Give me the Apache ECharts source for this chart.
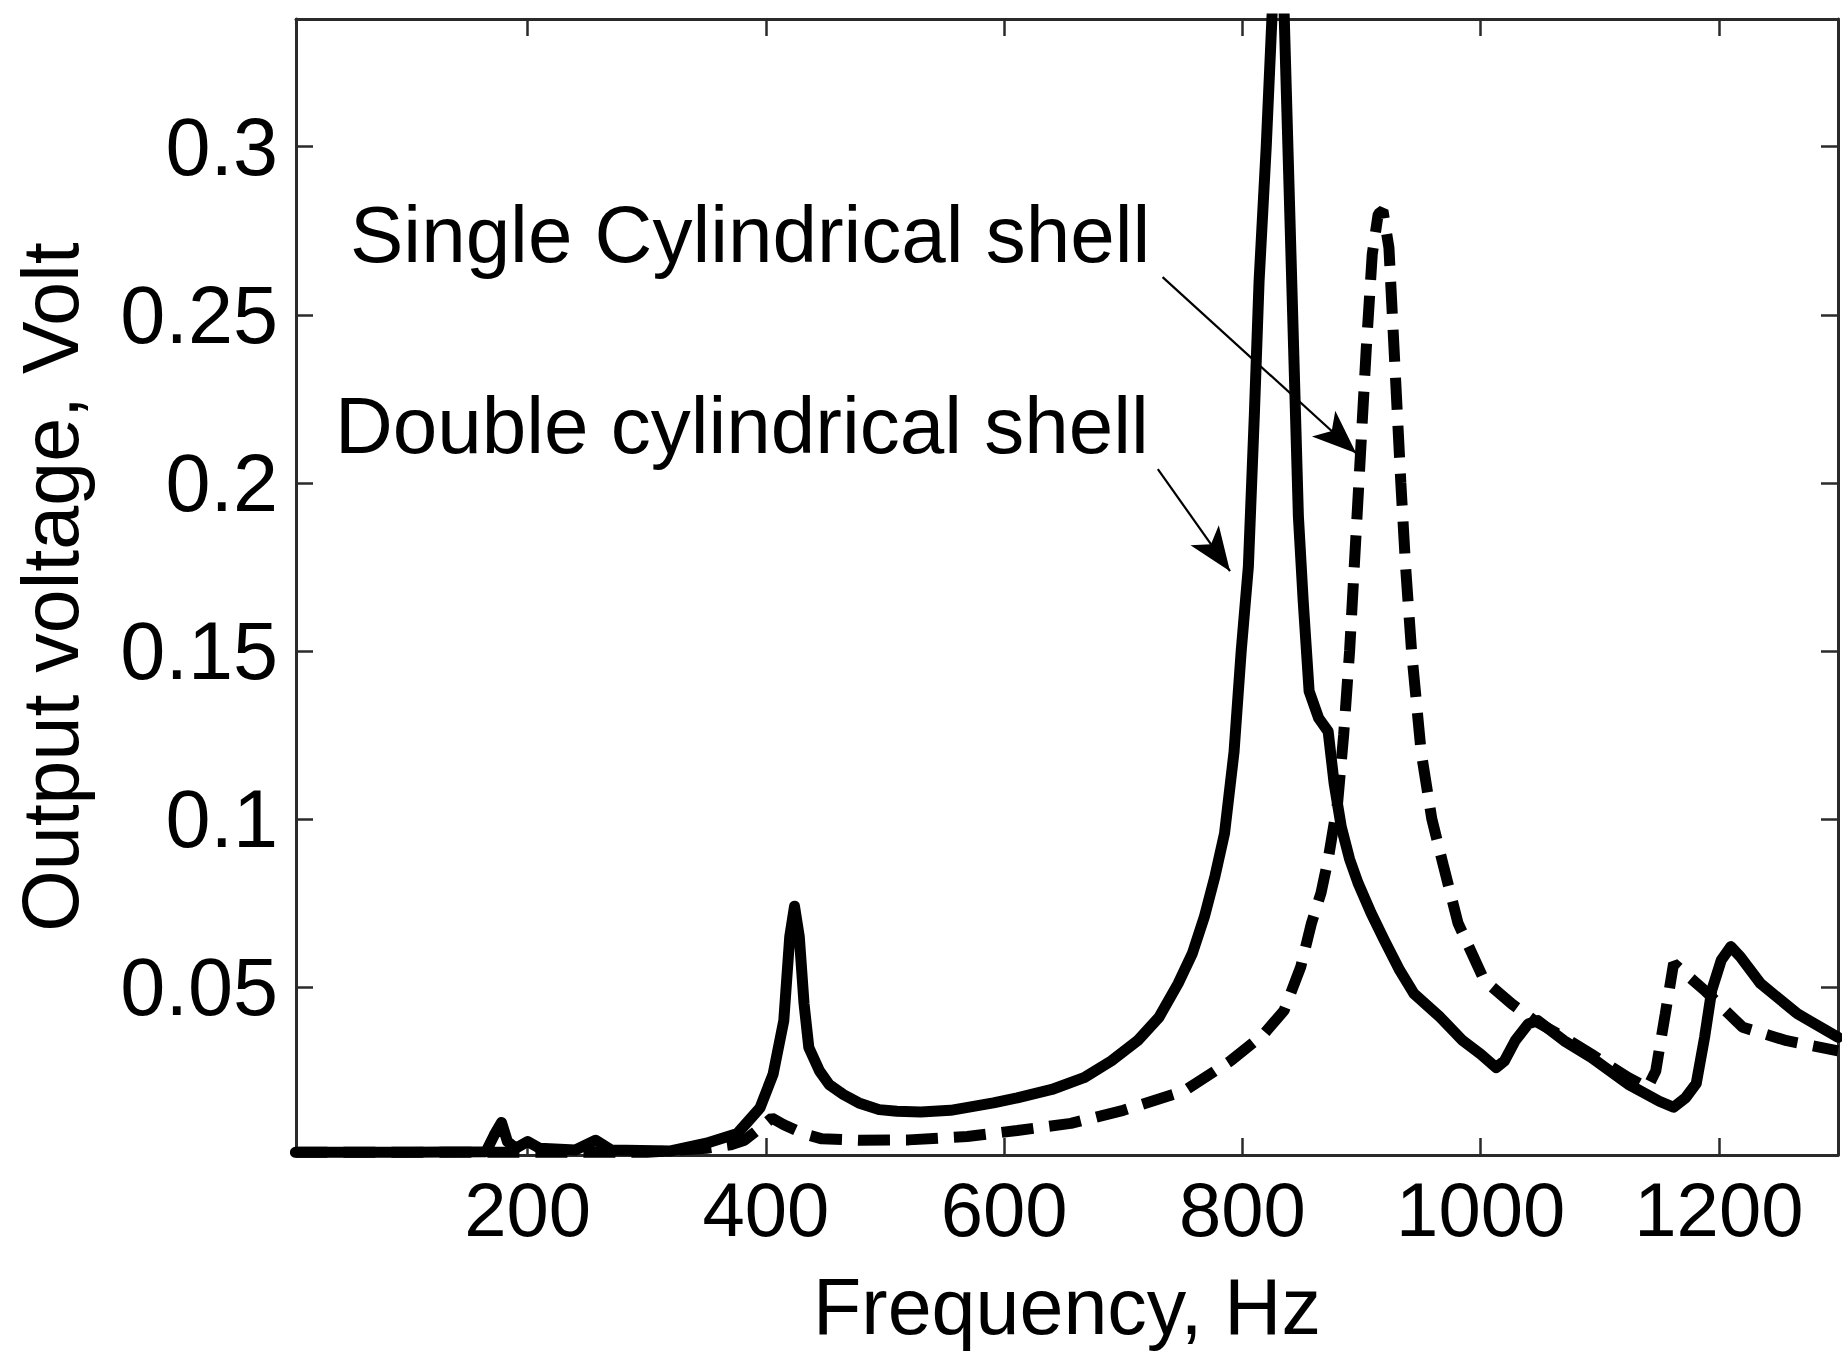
<!DOCTYPE html>
<html>
<head>
<meta charset="utf-8">
<script src="https://cdn.jsdelivr.net/npm/echarts@6/dist/echarts.min.js"></script>
<style>
html,body{margin:0;padding:0;background:#fff;}
#chart{width:1842px;height:1357px;}
</style>
</head>
<body>
<div id="chart"></div>
<script>
// ---- data ----
const xTickValues = [200, 400, 600, 800, 1000, 1200];
const yTickValues = [0.05, 0.1, 0.15, 0.2, 0.25, 0.3];

// Double cylindrical shell (solid line)
const doubleFreq = [5, 100, 165, 172, 178, 183, 190, 200, 210, 240, 257, 270, 320, 350, 376, 395, 406, 415, 420, 424, 428, 432, 436, 445, 453, 465, 478, 495, 510, 530, 555, 591, 611, 640, 667, 690, 712, 730, 746, 758, 768, 777, 785, 793, 799, 805, 810, 814, 820, 825, 830, 835, 839, 843, 847, 851, 856, 864, 872, 877, 883, 890, 897, 908, 919, 932, 944, 966, 985, 1000, 1013, 1020, 1029, 1040, 1048, 1070, 1093, 1124, 1150, 1162, 1172, 1181, 1188, 1194, 1202, 1210, 1218, 1235, 1266, 1300];
const doubleVolt = [0.0008, 0.0008, 0.001, 0.006, 0.0097, 0.004, 0.002, 0.004, 0.002, 0.0015, 0.0044, 0.0015, 0.0012, 0.0035, 0.0064, 0.014, 0.024, 0.040, 0.065, 0.074, 0.065, 0.045, 0.032, 0.025, 0.021, 0.018, 0.0155, 0.0135, 0.013, 0.0128, 0.0133, 0.0155, 0.017, 0.0195, 0.023, 0.028, 0.034, 0.041, 0.051, 0.060, 0.0708, 0.083, 0.0957, 0.120, 0.150, 0.175, 0.22, 0.26, 0.30, 0.34, 0.37, 0.34, 0.29, 0.24, 0.19, 0.165, 0.138, 0.130, 0.126, 0.1106, 0.0976, 0.088, 0.081, 0.072, 0.064, 0.055, 0.048, 0.041, 0.034, 0.030, 0.026, 0.028, 0.034, 0.039, 0.040, 0.034, 0.029, 0.021, 0.016, 0.0142, 0.017, 0.0213, 0.035, 0.049, 0.058, 0.062, 0.059, 0.051, 0.042, 0.035];

// Single cylindrical shell (dashed line)
const singleFreq = [5, 300, 350, 370, 382, 395, 405, 415, 431, 447, 478, 520, 569, 611, 656, 700, 751, 790, 818, 835, 849, 858, 866, 872, 880, 885, 890, 897, 904, 909, 914, 918, 923, 928, 933, 937, 942, 950, 959, 969, 981, 1003, 1026, 1045, 1070, 1093, 1124, 1140, 1147, 1155, 1162, 1175, 1188, 1220, 1257, 1300];
const singleVolt = [0.0008, 0.0008, 0.002, 0.003, 0.0044, 0.008, 0.011, 0.009, 0.0064, 0.0048, 0.0044, 0.0045, 0.0055, 0.0073, 0.0094, 0.0133, 0.019, 0.028, 0.036, 0.043, 0.056, 0.069, 0.078, 0.088, 0.105, 0.125, 0.150, 0.195, 0.240, 0.268, 0.280, 0.281, 0.270, 0.235, 0.200, 0.175, 0.150, 0.120, 0.100, 0.0857, 0.069, 0.052, 0.045, 0.040, 0.035, 0.030, 0.023, 0.020, 0.025, 0.042, 0.057, 0.053, 0.049, 0.038, 0.034, 0.031];

// annotation arrows: [startFreq, startVolt, tipFreq, tipVolt]
const singleArrow = [733, 0.2612, 895.5, 0.2088];
const doubleArrow = [729, 0.2041, 789.6, 0.1737];

const xRange = [5.5, 1300];
const yRange = [0, 0.338];

// ---- chart ----
const zip = (a, b) => a.map((v, i) => [v, b[i]]);
const FONT = '"Liberation Sans", Arial, sans-serif';
const AXIS_COLOR = '#2a2a2a';

const chart = echarts.init(document.getElementById('chart'), null, { renderer: 'svg' });

const baseAxisLine = { show: true, onZero: false, lineStyle: { color: AXIS_COLOR, width: 3 } };

chart.setOption({
  animation: false,
  backgroundColor: '#fff',
  grid: { left: 296, right: 4, top: 19, bottom: 202, containLabel: false },
  xAxis: [{
    type: 'value', position: 'bottom', min: xRange[0], max: xRange[1],
    axisLine: baseAxisLine,
    axisTick: { show: true, inside: true, length: 17, customValues: xTickValues, lineStyle: { color: AXIS_COLOR, width: 2.5 } },
    axisLabel: { show: true, customValues: xTickValues, color: '#000', fontFamily: FONT, fontSize: 76, margin: 16, formatter: v => String(v) },
    splitLine: { show: false },
    name: 'Frequency, Hz', nameLocation: 'middle', nameGap: 112,
    nameTextStyle: { color: '#000', fontFamily: FONT, fontSize: 79 }
  }, {
    type: 'value', position: 'top', min: xRange[0], max: xRange[1],
    axisLine: baseAxisLine,
    axisTick: { show: true, inside: true, length: 17, customValues: xTickValues, lineStyle: { color: AXIS_COLOR, width: 2.5 } },
    axisLabel: { show: false }, splitLine: { show: false }
  }],
  yAxis: [{
    type: 'value', position: 'left', min: yRange[0], max: yRange[1],
    axisLine: baseAxisLine,
    axisTick: { show: true, inside: true, length: 17, customValues: yTickValues, lineStyle: { color: AXIS_COLOR, width: 2.5 } },
    axisLabel: { show: true, customValues: yTickValues, color: '#000', fontFamily: FONT, fontSize: 81, margin: 18, formatter: v => String(v) },
    splitLine: { show: false },
    name: 'Output voltage, Volt', nameLocation: 'middle', nameGap: 206,
    nameTextStyle: { color: '#000', fontFamily: FONT, fontSize: 79 }
  }, {
    type: 'value', position: 'right', min: yRange[0], max: yRange[1],
    axisLine: baseAxisLine,
    axisTick: { show: true, inside: true, length: 17, customValues: yTickValues, lineStyle: { color: AXIS_COLOR, width: 2.5 } },
    axisLabel: { show: false }, splitLine: { show: false }
  }],
  series: [{
    name: 'Double cylindrical shell', type: 'line', xAxisIndex: 0, yAxisIndex: 0,
    data: zip(doubleFreq, doubleVolt), showSymbol: false, symbol: 'none', clip: true,
    lineStyle: { color: '#000', width: 11, type: 'solid', join: 'round', cap: 'round' },
    z: 3
  }, {
    name: 'Single Cylindrical shell', type: 'line', xAxisIndex: 0, yAxisIndex: 0,
    data: zip(singleFreq, singleVolt), showSymbol: false, symbol: 'none', clip: true,
    lineStyle: { color: '#000', width: 11, type: [32, 16], cap: 'butt' },
    z: 4,
    markLine: {
      silent: true, animation: false,
      symbol: ['none', 'arrow'], symbolSize: [26, 44],
      label: { show: false },
      lineStyle: { color: '#000', width: 2.2, type: 'solid' },
      emphasis: { disabled: true },
      data: [
        [{ coord: [singleArrow[0], singleArrow[1]] }, { coord: [singleArrow[2], singleArrow[3]] }],
        [{ coord: [doubleArrow[0], doubleArrow[1]] }, { coord: [doubleArrow[2], doubleArrow[3]] }]
      ]
    }
  }],
  graphic: [{
    type: 'text', x: 350, y: 234, z: 10,
    style: { text: 'Single Cylindrical shell', fill: '#000', font: '80px ' + FONT, align: 'left', verticalAlign: 'middle' }
  }, {
    type: 'text', x: 335, y: 425, z: 10,
    style: { text: 'Double cylindrical shell', fill: '#000', font: '80px ' + FONT, align: 'left', verticalAlign: 'middle' }
  }]
});
</script>
</body>
</html>
